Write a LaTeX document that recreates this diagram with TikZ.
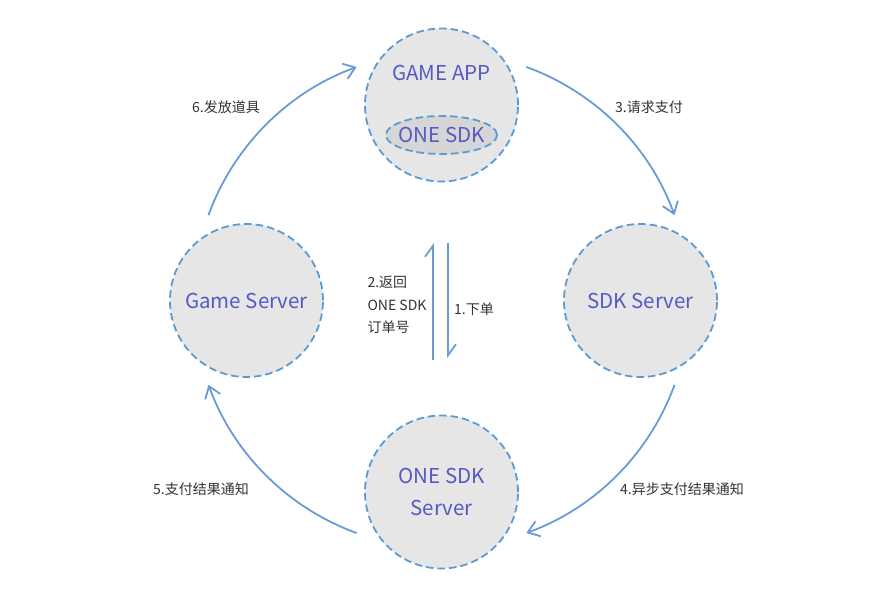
\documentclass[tikz,border=0pt]{standalone}
\usepackage{fontspec}
\setmainfont{Noto Sans CJK SC}
\usetikzlibrary{arrows.meta,shapes.geometric}
\definecolor{dashblue}{HTML}{5B9BD5}
\definecolor{arcblue}{HTML}{6A9BD8}
\definecolor{txtblue}{HTML}{5559C4}
\definecolor{lbl}{HTML}{333333}
\definecolor{fillg}{HTML}{E6E6E6}
\definecolor{fillell}{HTML}{D6D6D6}
\tikzset{
  x=1pt,y=1pt,
  party/.style={circle,draw=dashblue,fill=fillg,line width=1.8pt,dash pattern=on 7.5pt off 4pt,minimum size=153pt,inner sep=0pt},
  ntext/.style={text=txtblue,font=\fontsize{20.5}{32}\selectfont,align=center},
  lab/.style={text=lbl,font=\fontsize{14}{22.5}\selectfont},
  flow/.style={draw=arcblue,line width=1.8pt,-{Straight Barb[length=11pt,width=16pt]}},
  hflow/.style={draw=arcblue,line width=1.8pt,-{Straight Barb[left,length=11pt,width=16pt]}}
}
\begin{document}
\begin{tikzpicture}
\useasboundingbox (0,0) rectangle (870,600);
\coordinate (O) at (441.5,300);
% parties
\node[party] (app) at (441.5,495) {};
\node[ntext] (apptxt) at (441.5,527) {GAME APP};
\node[ellipse,draw=dashblue,fill=fillell,line width=1.8pt,dash pattern=on 7.5pt off 4pt,minimum width=111pt,minimum height=38pt,inner sep=0pt] (sdk) at (441.5,465) {};
\node[ntext] (sdktxt) at (sdk) {ONE SDK};
\node[party,ntext] (gs) at (246.5,299.5) {Game Server};
\node[party,ntext] (ss) at (640.5,299.5) {SDK Server};
\node[party,ntext] (os) at (441.5,108) {ONE SDK\\Server};
% arc endpoints
\path (O) ++(70:248) coordinate (p3s);
\path (O) ++(160:248) coordinate (p6s);
\path (O) ++(-20:248) coordinate (p4s);
\path (O) ++(-110:248) coordinate (p5s);
\draw[flow] (p3s) arc[start angle=70,end angle=20,radius=248];
\draw[flow] (p4s) arc[start angle=-20,end angle=-70,radius=248];
\draw[flow] (p5s) arc[start angle=-110,end angle=-160,radius=248];
\draw[flow] (p6s) arc[start angle=160,end angle=110,radius=248];
% vertical harpoons
\coordinate (u1) at (433,240);
\coordinate (u2) at (433,357);
\coordinate (d1) at (448,357);
\coordinate (d2) at (448,242);
\draw[hflow] (u1) -- (u2);
\draw[hflow] (d1) -- (d2);
% labels
\node[lab] (l6) at (226,493) {6.发放道具};
\node[lab] (l3) at (649,493) {3.请求支付};
\node[lab] (l4) at (682,111) {4.异步支付结果通知};
\node[lab] (l5) at (201,111) {5.支付结果通知};
\node[lab,align=left,anchor=west] (l2) at (364,295) {2.返回\\ONE SDK\\订单号};
\node[lab] (l1) at (474,291) {1.下单};
\end{tikzpicture}
\end{document}
